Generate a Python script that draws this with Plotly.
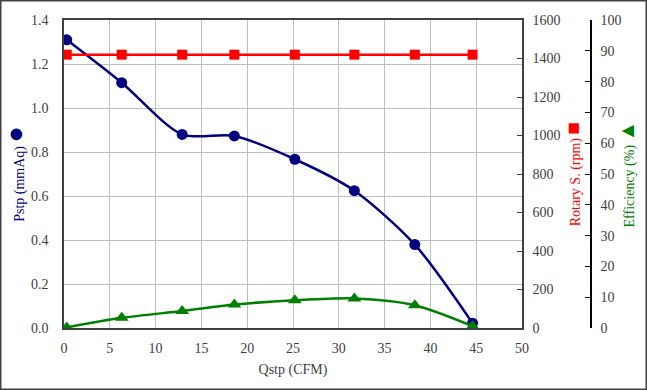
import plotly.graph_objects as go

# ---- data ----
qstp = [0.3, 6.3, 12.9, 18.6, 25.2, 31.7, 38.3, 44.6]          # CFM
pstp = [1.31, 1.115, 0.88, 0.873, 0.767, 0.624, 0.379, 0.022]   # mmAq
rotary = [1420, 1420, 1420, 1420, 1420, 1420, 1420, 1420]       # rpm
efficiency = [0.2, 3.3, 5.5, 7.6, 9.0, 9.6, 7.4, 0.6]           # %

x_ticks = [0, 5, 10, 15, 20, 25, 30, 35, 40, 45, 50]

FONT = "Liberation Serif"
NAVY = "#000080"
RED = "#FF0000"
GREEN = "#008000"
AXIS = "#404040"
GRID = "#BFBFBF"

W, H = 647, 390
ML, MR, MT, MB = 64, 40, 20, 62
plot_w = W - ML - MR
plot_h = H - MT - MB
x_dom_end = (522 - ML) / plot_w
eff_pos = (591 - ML) / plot_w

fig = go.Figure()

fig.add_trace(go.Scatter(
    x=qstp, y=pstp, name="Pstp", mode="lines+markers",
    line=dict(color=NAVY, width=2.5, shape="spline", smoothing=0.8),
    marker=dict(symbol="circle", size=11, color=NAVY),
    yaxis="y"))

fig.add_trace(go.Scatter(
    x=qstp, y=rotary, name="Rotary S.", mode="lines+markers",
    line=dict(color=RED, width=2.5),
    marker=dict(symbol="square", size=10, color=RED),
    yaxis="y2"))

fig.add_trace(go.Scatter(
    x=qstp, y=efficiency, name="Efficiency", mode="lines+markers",
    line=dict(color=GREEN, width=2.5, shape="spline", smoothing=0.8),
    marker=dict(symbol="triangle-up", size=12, color=GREEN),
    yaxis="y3"))

tickfont = dict(family=FONT, size=14, color=AXIS)

fig.update_layout(
    width=W, height=H,
    margin=dict(l=ML, r=MR, t=MT, b=MB, autoexpand=False),
    paper_bgcolor="white", plot_bgcolor="white",
    showlegend=False,
    font=dict(family=FONT, size=14, color=AXIS),
    xaxis=dict(
        domain=[0, x_dom_end], range=[0, 50], tickvals=x_ticks,
        showgrid=True, gridcolor=GRID, gridwidth=1,
        showline=True, linecolor=AXIS, linewidth=1.5, mirror=True,
        ticks="", zeroline=False, tickfont=tickfont, ticklabelstandoff=6,
        title=dict(text="Qstp (CFM)", font=dict(family=FONT, size=14, color=AXIS), standoff=10),
        automargin=False,
    ),
    yaxis=dict(
        range=[0, 1.4], dtick=0.2, tickformat=".1f",
        showgrid=True, gridcolor=GRID, gridwidth=1,
        showline=True, linecolor=AXIS, linewidth=1.5,
        ticks="", zeroline=False, tickfont=tickfont, ticklabelstandoff=11,
        title=dict(text="Pstp (mmAq) <span style='font-size:27px'>●</span>",
                   font=dict(family=FONT, size=14, color=NAVY), standoff=4),
        automargin=False,
    ),
    yaxis2=dict(
        overlaying="y", side="right", anchor="x",
        range=[0, 1600], dtick=200,
        showgrid=False, zeroline=False,
        showline=True, linecolor=AXIS, linewidth=1.5,
        ticks="inside", ticklen=5, tickcolor=AXIS,
        tickfont=tickfont, ticklabelstandoff=6,
        title=dict(text="Rotary S. (rpm) <span style='font-size:21px'>■</span>",
                   font=dict(family=FONT, size=14, color=RED), standoff=4),
        automargin=False,
    ),
    yaxis3=dict(
        overlaying="y", side="right", anchor="free", position=eff_pos,
        range=[0, 100], dtick=10,
        showgrid=False, zeroline=False,
        showline=True, linecolor="#000000", linewidth=1.5,
        ticks="inside", ticklen=5, tickcolor="#000000",
        tickfont=tickfont, ticklabelstandoff=6,
        title=dict(text="Efficiency (%) <span style='font-size:21px'>▲</span>",
                   font=dict(family=FONT, size=14, color=GREEN), standoff=3),
        automargin=False,
    ),
)

# outer chart border
fig.add_shape(
    type="rect", xref="paper", yref="paper",
    x0=(0.75 - ML) / plot_w, x1=(W - 0.75 - ML) / plot_w,
    y0=-(MB - 0.75) / plot_h, y1=(plot_h + MT - 0.75) / plot_h,
    line=dict(color="#404040", width=1.5), fillcolor="rgba(0,0,0,0)", layer="above")

fig.write_html("out.html",
               config={"displayModeBar": False},
               post_script="document.body.style.margin='0';document.body.style.overflow='hidden';")
